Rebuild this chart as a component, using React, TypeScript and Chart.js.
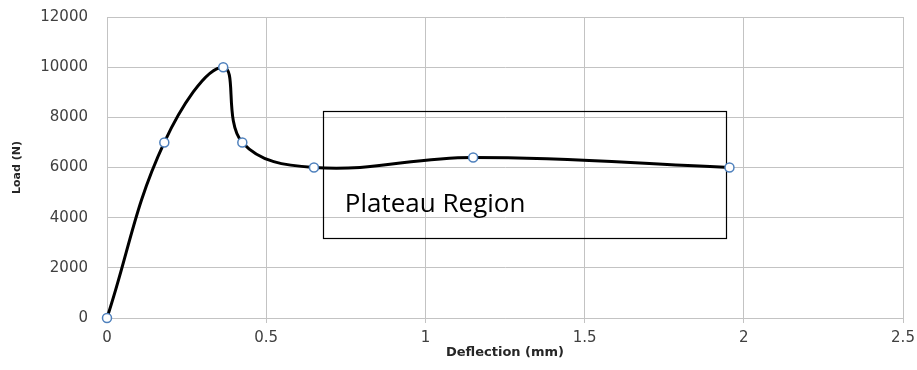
import React, { useEffect, useRef } from "react";
import { Chart, registerables } from "chart.js";

Chart.register(...registerables);

const deflection = [0, 0.18, 0.365, 0.425, 0.65, 1.15, 1.955];
const load = [0, 7000, 10000, 7000, 6000, 6400, 6000];
const xTickValues = [0, 0.5, 1, 1.5, 2, 2.5];
const yTickValues = [0, 2000, 4000, 6000, 8000, 10000, 12000];
const xTitle = "Deflection (mm)";
const yTitle = "Load (N)";
const plateauLabel = "Plateau Region";
const plateauXRange = [0.678, 1.943];
const plateauYRange = [3214, 8265];
const plateauLabelPos = [0.747, 4238];

const gridColor = "#c3c3c3";
const tickColor = "#404040";

const plateauBox = {
  id: "plateauBox",
  beforeDatasetsDraw(chart: any) {
    const { ctx, scales } = chart;
    const x = scales.x;
    const y = scales.y;
    const l = x.getPixelForValue(plateauXRange[0]);
    const r = x.getPixelForValue(plateauXRange[1]);
    const t = y.getPixelForValue(plateauYRange[1]);
    const b = y.getPixelForValue(plateauYRange[0]);
    ctx.save();
    ctx.strokeStyle = "#000";
    ctx.lineWidth = 1.2;
    ctx.strokeRect(Math.round(l) + 0.5, Math.round(t) + 0.5, Math.round(r - l), Math.round(b - t));
    ctx.font = '26px "Open Sans"';
    ctx.fillStyle = "#000";
    ctx.textBaseline = "alphabetic";
    ctx.textAlign = "left";
    ctx.fillText(plateauLabel, x.getPixelForValue(plateauLabelPos[0]), y.getPixelForValue(plateauLabelPos[1]));
    ctx.restore();
  },
};

export default function App() {
  const ref = useRef<HTMLCanvasElement | null>(null);
  useEffect(() => {
    if (!ref.current) return;
    const chart = new Chart(ref.current, {
      type: "line",
      data: {
        datasets: [
          {
            data: deflection.map((d, i) => ({ x: d, y: load[i] })),
            borderColor: "#000",
            borderWidth: 3,
            tension: 0.4,
            pointRadius: 4.5,
            pointBackgroundColor: "#fff",
            pointBorderColor: "#4f81bd",
            pointBorderWidth: 1.5,
            clip: false as any,
            fill: false,
          },
        ],
      },
      plugins: [plateauBox],
      options: {
        animation: false,
        responsive: true,
        maintainAspectRatio: false,
        layout: { padding: { left: 0, right: 14, top: 17, bottom: 0 } },
        plugins: { legend: { display: false }, tooltip: { enabled: false } },
        scales: {
          x: {
            type: "linear",
            min: xTickValues[0],
            max: xTickValues[xTickValues.length - 1],
            afterBuildTicks: (s: any) => {
              s.ticks = xTickValues.map((v) => ({ value: v }));
            },
            afterFit: (s: any) => {
              s.height = 52;
              s.paddingLeft = 0;
              s.paddingRight = 0;
            },
            grid: { color: gridColor, tickLength: 5, drawTicks: true },
            border: { color: gridColor },
            ticks: {
              color: tickColor,
              font: { family: "DejaVu Sans", size: 15 },
              padding: 6,
              maxRotation: 0,
              callback: (v: any) => String(v),
            },
            title: {
              display: true,
              text: xTitle,
              color: "#262626",
              font: { family: "DejaVu Sans", size: 13, weight: "bold" },
              padding: { top: 0, bottom: 10 },
            },
          },
          y: {
            type: "linear",
            min: yTickValues[0],
            max: yTickValues[yTickValues.length - 1],
            afterBuildTicks: (s: any) => {
              s.ticks = yTickValues.map((v) => ({ value: v }));
            },
            afterFit: (s: any) => {
              s.width = 107;
              s.paddingTop = 0;
              s.paddingBottom = 0;
            },
            grid: { color: gridColor, drawTicks: false },
            border: { color: gridColor },
            ticks: {
              color: tickColor,
              font: { family: "DejaVu Sans", size: 15 },
              padding: 19,
              callback: (v: any) => String(v),
            },
            title: {
              display: true,
              text: yTitle,
              color: "#262626",
              font: { family: "DejaVu Sans", size: 11, weight: "bold" },
              padding: { top: 11, bottom: 0 },
            },
          },
        },
      },
    });
    return () => chart.destroy();
  }, []);
  return (
    <div style={{ position: "fixed", left: 0, top: 0, width: 917, height: 370, background: "#fff" }}>
      <canvas ref={ref} />
    </div>
  );
}
